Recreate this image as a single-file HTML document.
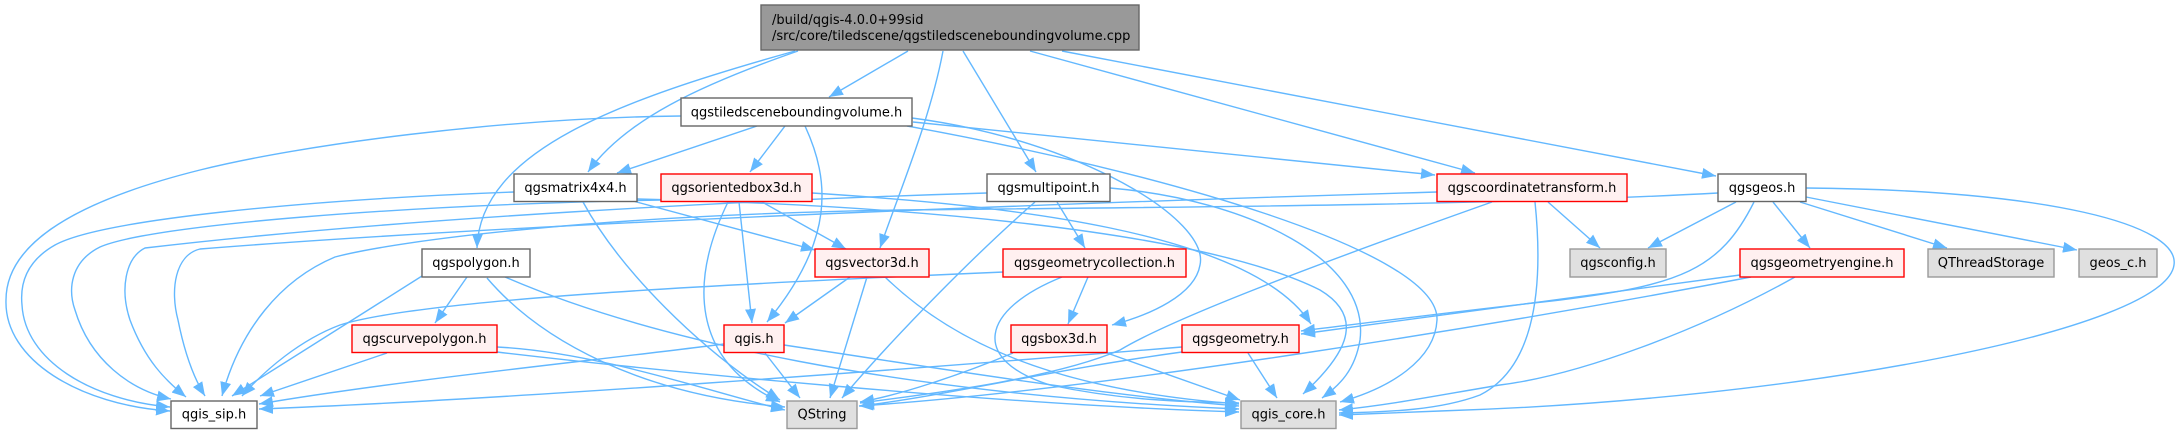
<!DOCTYPE html>
<html><head><meta charset="utf-8"><style>
html,body{margin:0;padding:0;background:#fff;}
svg{display:block;}
text{font-family:"DejaVu Sans","Liberation Sans",sans-serif;font-size:13px;fill:#000;}
</style></head><body>
<svg width="2180" height="434" viewBox="0 0 2180 434" xmlns="http://www.w3.org/2000/svg">
<defs><marker id="a" markerUnits="userSpaceOnUse" markerWidth="15" markerHeight="11" refX="14" refY="5.5" orient="auto"><path d="M0,0 L14,5.5 L0,11 z" fill="#63b8ff"/></marker></defs>
<g fill="none" stroke="#63b8ff" stroke-width="1.4" marker-end="url(#a)">
<!-- top node -->
<path d="M908,51 L829,97"/>
<path d="M798,51 C700,85 625,120 588,172"/>
<path d="M795,51 C620,100 480,150 477,248"/>
<path d="M943,51 C930,120 900,190 880,248"/>
<path d="M963,51 L1036,172"/>
<path d="M1030,51 L1475,173"/>
<path d="M1062,51 L1716,176"/>
<!-- N1 -->
<path d="M681,116 C500,118 300,145 200,170 C60,205 6,250 6,300 C4,360 80,405 170,411"/>
<path d="M757,126 L617,173"/>
<path d="M785,126 L750,172"/>
<path d="M805,126 C830,180 835,240 767,322"/>
<path d="M912,118 C1080,140 1210,220 1200,265 C1195,295 1150,315 1112,325"/>
<path d="M913,122 L1435,175"/>
<path d="M907,126 C1150,170 1440,250 1437,320 C1435,360 1390,388 1340,402"/>
<!-- N2 -->
<path d="M514,192 C300,200 100,220 55,245 C25,262 20,285 22,305 C25,360 90,400 170,407"/>
<path d="M633,201 L815,250"/>
<path d="M583,202 C620,270 700,350 780,400"/>
<path d="M637,199 C900,205 1200,230 1320,290 C1370,320 1340,360 1303,394"/>
<!-- N3 -->
<path d="M662,200 C400,205 150,225 100,247 C70,262 68,290 75,310 C90,360 130,390 171,399"/>
<path d="M762,202 L846,249"/>
<path d="M739,202 L752,323"/>
<path d="M728,202 C690,280 690,360 780,402"/>
<path d="M812,193 C1000,205 1250,230 1311,324"/>
<!-- N4 -->
<path d="M987,193 C750,200 400,218 145,248 C125,258 120,290 130,320 C145,360 165,380 186,397"/>
<path d="M1057,202 L1085,248"/>
<path d="M1035,202 C980,250 900,330 842,398"/>
<path d="M1110,188 C1250,200 1370,260 1360,340 C1355,370 1340,385 1322,398"/>
<!-- N5 -->
<path d="M1437,192 C1000,205 500,225 200,249 C175,255 170,290 178,320 C185,355 195,380 205,396"/>
<path d="M1548,202 L1600,248"/>
<path d="M1492,202 C1300,270 1170,320 1120,350 C1050,380 920,395 860,403"/>
<path d="M1535,202 C1545,300 1530,370 1480,395 C1440,410 1390,412 1339,413"/>
<!-- N6 -->
<path d="M1718,193 C1500,205 1200,207 900,210 C600,215 400,240 335,257 C280,280 240,330 222,396"/>
<path d="M1736,202 L1648,248"/>
<path d="M1773,202 L1810,248"/>
<path d="M1800,202 L1947,248"/>
<path d="M1806,197 L2077,250"/>
<path d="M1754,202 C1720,270 1680,285 1560,300 C1450,312 1350,325 1301,331"/>
<path d="M1806,188 C2050,190 2180,225 2174,265 C2165,330 1800,400 1440,411 L1339,415"/>
<!-- N7 -->
<path d="M422,276 L232,396"/>
<path d="M467,277 L435,323"/>
<path d="M487,278 C540,340 640,395 785,407"/>
<path d="M505,277 C650,340 900,395 1239,409"/>
<!-- N8 -->
<path d="M850,277 L785,323"/>
<path d="M867,277 L830,398"/>
<path d="M885,277 C950,340 1050,390 1239,404"/>
<!-- N9 -->
<path d="M1004,272 C700,285 420,300 340,325 C300,340 265,370 242,396"/>
<path d="M1088,277 L1068,324"/>
<path d="M1062,277 C980,310 970,360 1050,385 C1120,400 1180,402 1239,403"/>
<!-- N11 -->
<path d="M1740,275 L1301,334"/>
<path d="M1751,277 C1500,325 1100,390 859,406"/>
<path d="M1795,277 C1700,330 1580,375 1500,385 C1440,395 1390,405 1339,410"/>
<!-- N14 -->
<path d="M387,353 L260,396"/>
<path d="M497,347 C600,352 720,395 785,410"/>
<path d="M497,352 C650,370 1000,405 1239,412"/>
<!-- N15 -->
<path d="M724,344 C600,360 400,380 259,404"/>
<path d="M765,353 L800,398"/>
<path d="M784,345 C950,370 1100,395 1239,406"/>
<!-- N16 -->
<path d="M1013,353 C960,375 900,395 860,402"/>
<path d="M1107,353 L1240,400"/>
<!-- N17 -->
<path d="M1182,347 C900,370 500,400 259,409"/>
<path d="M1182,352 C1050,370 950,395 860,406"/>
<path d="M1248,353 L1277,398"/>
</g>
<g stroke-width="1.4">
<rect x="761" y="5" width="378" height="45" fill="#999999" stroke="#666666"/>
<rect x="681" y="98" width="231" height="28" fill="#ffffff" stroke="#666666"/>
<rect x="514" y="174" width="123" height="27.5" fill="#ffffff" stroke="#666666"/>
<rect x="661" y="174" width="151" height="27.5" fill="#fff0f0" stroke="#ff0000"/>
<rect x="987" y="174" width="123" height="27.5" fill="#ffffff" stroke="#666666"/>
<rect x="1437" y="174" width="190" height="27.5" fill="#fff0f0" stroke="#ff0000"/>
<rect x="1718" y="174" width="88" height="27.5" fill="#ffffff" stroke="#666666"/>
<rect x="422" y="249" width="108" height="28" fill="#ffffff" stroke="#666666"/>
<rect x="815" y="249" width="114" height="28" fill="#fff0f0" stroke="#ff0000"/>
<rect x="1003" y="249" width="183" height="28" fill="#fff0f0" stroke="#ff0000"/>
<rect x="1570" y="249" width="96" height="28" fill="#e0e0e0" stroke="#999999"/>
<rect x="1740" y="249" width="164" height="28" fill="#fff0f0" stroke="#ff0000"/>
<rect x="1928" y="249" width="126" height="28" fill="#e0e0e0" stroke="#999999"/>
<rect x="2079" y="249" width="78" height="28" fill="#e0e0e0" stroke="#999999"/>
<rect x="352" y="325" width="145" height="27.5" fill="#fff0f0" stroke="#ff0000"/>
<rect x="724" y="325" width="60" height="27.5" fill="#fff0f0" stroke="#ff0000"/>
<rect x="1011" y="325" width="96" height="27.5" fill="#fff0f0" stroke="#ff0000"/>
<rect x="1182" y="325" width="117" height="27.5" fill="#fff0f0" stroke="#ff0000"/>
<rect x="171" y="401" width="86" height="27.5" fill="#ffffff" stroke="#666666"/>
<rect x="787" y="401" width="70" height="27.5" fill="#e0e0e0" stroke="#999999"/>
<rect x="1241" y="401" width="95" height="27.5" fill="#e0e0e0" stroke="#999999"/>
</g>
<text x="772" y="24">/build/qgis-4.0.0+99sid</text>
<text x="772" y="40">/src/core/tiledscene/qgstiledsceneboundingvolume.cpp</text>
<g text-anchor="middle">
<text x="796.5" y="116.5">qgstiledsceneboundingvolume.h</text>
<text x="575.5" y="192">qgsmatrix4x4.h</text>
<text x="736.5" y="192">qgsorientedbox3d.h</text>
<text x="1048.5" y="192">qgsmultipoint.h</text>
<text x="1532" y="192">qgscoordinatetransform.h</text>
<text x="1762" y="192">qgsgeos.h</text>
<text x="476" y="267">qgspolygon.h</text>
<text x="872" y="267">qgsvector3d.h</text>
<text x="1094.5" y="267">qgsgeometrycollection.h</text>
<text x="1618" y="267">qgsconfig.h</text>
<text x="1822" y="267">qgsgeometryengine.h</text>
<text x="1991" y="267">QThreadStorage</text>
<text x="2118" y="267">geos_c.h</text>
<text x="424.5" y="343">qgscurvepolygon.h</text>
<text x="754" y="343">qgis.h</text>
<text x="1059" y="343">qgsbox3d.h</text>
<text x="1240.5" y="343">qgsgeometry.h</text>
<text x="214" y="418.5">qgis_sip.h</text>
<text x="822" y="418.5">QString</text>
<text x="1288.5" y="418.5">qgis_core.h</text>
</g>
</svg>
</body></html>
